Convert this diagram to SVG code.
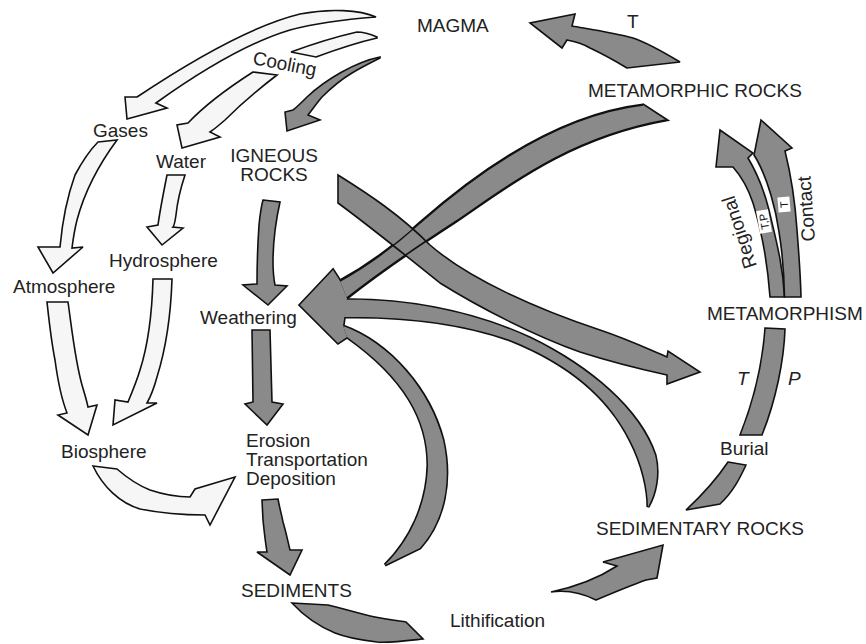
<svg xmlns="http://www.w3.org/2000/svg" xmlns:xlink="http://www.w3.org/1999/xlink" width="866" height="644" viewBox="0 0 866 644">
<style>
.lbl{font-family:'Liberation Sans',Arial,Helvetica,sans-serif;font-size:19px;fill:#222}
.it{font-style:italic}
.sm{font-family:'Liberation Sans',Arial,Helvetica,sans-serif;font-size:11px;fill:#111}
.g{fill:#8a8a8a;stroke:#111;stroke-width:1.6;stroke-linejoin:miter;stroke-miterlimit:3}
.w{fill:#f6f6f6;stroke:#111;stroke-width:1.6;stroke-linejoin:miter;stroke-miterlimit:3}
.u{fill:#8a8a8a;stroke:#111;stroke-width:3.2;stroke-linejoin:miter;stroke-miterlimit:3}
.f{fill:#8a8a8a;stroke:none}
.e{fill:none;stroke:#111;stroke-width:1.6}
.box{fill:#fff}
</style>
<defs>
<path id="pH" d="M300,305 L333,270 L340,281 L347,298 L343,326 L347,337 L338,343 Z"/>
<path id="pM" d="M643,105 C560,115 480,170 420,223 C390,250 360,270 340,281 L347,298 C380,272 415,248 455,222 C500,192 565,138 666,120 Z"/>
<path id="pS" d="M337,300 C400,298 470,310 530,338 C590,367 640,410 655,455 C660,475 655,495 648,507 C648,490 643,465 630,440 C605,390 560,360 510,340 C460,322 400,316 342,317 Z"/>
<path id="pD" d="M343,326 C390,343 430,390 443,440 C452,480 445,520 420,548 L385,565 C410,540 427,505 428,465 C428,420 405,378 347,337 Z"/>
</defs>
<rect width="866" height="644" fill="#fff"/>
<g id="connectors">
  <path id="a-magma-gases" class="w" d="M376,17 C360,10 330,8 300,14 C255,25 200,55 137,97 L125,97 L127,119 L167,108 L156,103 C205,68 250,42 290,30 C320,22 350,19 376,17 Z"/>
  <path id="a-magma-cooling" class="w" d="M377,37 C370,34 363,32 357,32 C335,37 310,45 291,52 L316,57 C335,50 355,43 377,38 Z"/>
  <path id="a-cooling-water" class="w" d="M253,72 L277,75 C260,88 240,105 225,120 C217,127 213,130 210,132 L220,137 L182,148 L177,125 L188,123 C205,105 228,88 253,72 Z"/>
  <path id="a-gases-atmosphere" class="w" d="M98,142 L117,140 C100,163 85,190 77,220 C74,232 73,240 72,248 L83,247 L53,273 L38,247 L60,247 C62,225 66,200 75,175 C83,160 90,150 98,142 Z"/>
  <path id="a-water-hydrosphere" class="w" d="M167,175 L185,175 C180,190 177,205 176,215 C175,222 174,226 173,227 L183,228 L162,245 L147,227 L158,225 C160,210 163,195 167,175 Z"/>
  <path id="a-atmosphere-biosphere" class="w" d="M47,302 L68,302 C72,330 75,360 82,385 C85,395 87,402 88,407 L97,405 L88,435 L58,415 L67,413 C60,395 57,375 55,360 C51,340 49,320 47,302 Z"/>
  <path id="a-hydrosphere-biosphere" class="w" d="M153,279 L172,279 C171,310 167,345 157,377 C154,388 151,396 147,403 L157,403 L113,425 L115,400 L128,402 C133,390 137,380 140,370 C148,345 152,315 153,279 Z"/>
  <path id="a-biosphere-erosion" class="w" d="M93,466 L117,469 C125,476 135,484 150,490 C165,495 178,497 190,497 L195,489 L235,477 L210,525 L205,515 C185,515 165,514 140,509 C120,503 103,487 93,466 Z"/>
  <path id="a-magma-igneous" class="g" d="M380,57 C355,62 325,80 307,97 C300,104 296,108 293,110 L285,112 L287,131 L320,120 L308,115 C312,110 316,104 322,97 C332,87 342,79 352,73 C362,67 372,62 380,58 Z"/>
  <path id="a-igneous-weathering" class="g" d="M263,200 L280,202 C276,220 273,245 273,262 C273,272 274,280 275,285 L287,286 L268,305 L243,285 L257,284 C257,262 258,240 259,225 C260,215 261,207 263,200 Z"/>
  <path id="a-weathering-erosion" class="g" d="M252,330 L270,330 L272,402 L283,404 L267,425 L245,404 L253,402 Z"/>
  <path id="a-erosion-sediments" class="g" d="M262,500 L278,499 C280,510 282,516 283,522 C286,532 288,542 290,550 L302,550 L290,575 L257,552 L267,552 C265,540 264,530 263,520 Z"/>
  <path id="a-sediments-lithification" class="g" d="M292,603 L328,605 C345,609 360,614 375,617 C390,620 400,621 406,622 L423,639 C405,641 390,643 377,642 C360,640 345,637 335,633 C318,626 303,615 292,603 Z"/>
  <path id="a-lithification-sedrocks" class="g" d="M551,592 C565,590 580,592 596,600 C615,592 632,585 646,580 L657,578 L663,545 L603,562 L617,566 C600,577 575,587 551,592 Z"/>
  <path id="a-burial-sedrocks" class="g" d="M728,462 L746,465 C740,478 733,492 720,504 L686,510 C700,497 716,480 728,462 Z"/>
  <path id="a-metamorphism-burial" class="g" d="M765,328 L785,329 C784,360 776,400 762,435 L740,435 C752,405 762,370 765,328 Z"/>
  <path id="a-metrocks-magma" class="g" d="M680,62 C660,50 645,42 633,38 C615,33 595,30 572,26 L575,14 L530,23 L562,48 L567,40 C578,42 585,45 590,48 C605,55 617,62 627,68 Z"/>
  <path id="a-regional" class="g" d="M770,297 C768,270 763,235 753,203 C748,188 741,176 733,167 L716,167 L720,130 L753,153 L748,158 C757,173 764,190 769,210 C776,240 783,265 784.5,297 Z"/>
  <path id="a-contact" class="g" d="M784.5,297 C784,270 782,250 779,232 C776,210 768,180 757,160 L754,155 L761,120 L792,148 L785,151 C791,175 795,200 797,230 C799,255 800.5,275 801,297 Z"/>
  <rect class="box" x="-11.5" y="-6" width="23" height="12" transform="translate(764,221.5) rotate(-100)"/>
  <text class="sm" text-anchor="middle" transform="translate(764,221.5) rotate(-100) translate(0,4)">T,P</text>
  <rect class="box" x="-7.5" y="-6" width="15" height="12" transform="translate(784,204.5) rotate(-95)"/>
  <text class="sm" text-anchor="middle" transform="translate(784,204.5) rotate(-95) translate(0,4)">T</text>
  <g id="a-to-weathering">
    <use class="u" xlink:href="#pM"/>
    <use class="u" xlink:href="#pS"/>
    <use class="u" xlink:href="#pD"/>
    <use class="u" xlink:href="#pH"/>
    <use class="f" xlink:href="#pM"/>
    <use class="f" xlink:href="#pS"/>
    <use class="f" xlink:href="#pD"/>
    <use class="f" xlink:href="#pH"/>
  </g>
  <path id="a-igneous-metamorphism" class="g" d="M338,175 C370,195 400,215 430,245 C470,280 540,310 600,330 C630,340 650,350 667,357 L668,351 L700,372 L667,384 L667,375 C635,368 605,360 580,352 C535,336 480,308 440,283 C405,255 372,228 338,203 Z"/>
  <path class="e" d="M643,105 C560,115 480,170 420,223 C390,250 360,270 340,281 M347,298 C380,272 415,248 455,222 C500,192 565,138 666,120"/>
</g>
<g id="magma"><text class="lbl" x="417" y="32">MAGMA</text></g>
<g id="label-t-top"><text class="lbl" x="627" y="28">T</text></g>
<g id="metamorphic-rocks"><text class="lbl" x="588" y="97">METAMORPHIC ROCKS</text></g>
<g id="cooling"><text class="lbl" transform="translate(252,64) rotate(11)">Cooling</text></g>
<g id="gases"><text class="lbl" x="93" y="137">Gases</text></g>
<g id="water"><text class="lbl" x="156" y="168">Water</text></g>
<g id="igneous-rocks"><text class="lbl" text-anchor="middle" x="274" y="162">IGNEOUS</text><text class="lbl" text-anchor="middle" x="274" y="181">ROCKS</text></g>
<g id="hydrosphere"><text class="lbl" x="109" y="267">Hydrosphere</text></g>
<g id="atmosphere"><text class="lbl" x="13" y="293">Atmosphere</text></g>
<g id="weathering"><text class="lbl" x="200" y="324">Weathering</text></g>
<g id="biosphere"><text class="lbl" x="61" y="458">Biosphere</text></g>
<g id="erosion"><text class="lbl" x="246" y="447">Erosion</text><text class="lbl" x="246" y="466">Transportation</text><text class="lbl" x="246" y="485">Deposition</text></g>
<g id="sediments"><text class="lbl" x="241" y="597">SEDIMENTS</text></g>
<g id="lithification"><text class="lbl" x="450" y="627">Lithification</text></g>
<g id="sedimentary-rocks"><text class="lbl" x="596" y="535">SEDIMENTARY ROCKS</text></g>
<g id="burial"><text class="lbl" x="720" y="455">Burial</text></g>
<g id="label-tp"><text class="lbl it" x="737" y="385">T</text><text class="lbl it" x="788" y="385">P</text></g>
<g id="metamorphism"><text class="lbl" x="707" y="320">METAMORPHISM</text></g>
<g id="regional"><text class="lbl" transform="translate(757,266) rotate(-108)">Regional</text></g>
<g id="contact"><text class="lbl" transform="translate(815,241) rotate(-94)">Contact</text></g>
</svg>
